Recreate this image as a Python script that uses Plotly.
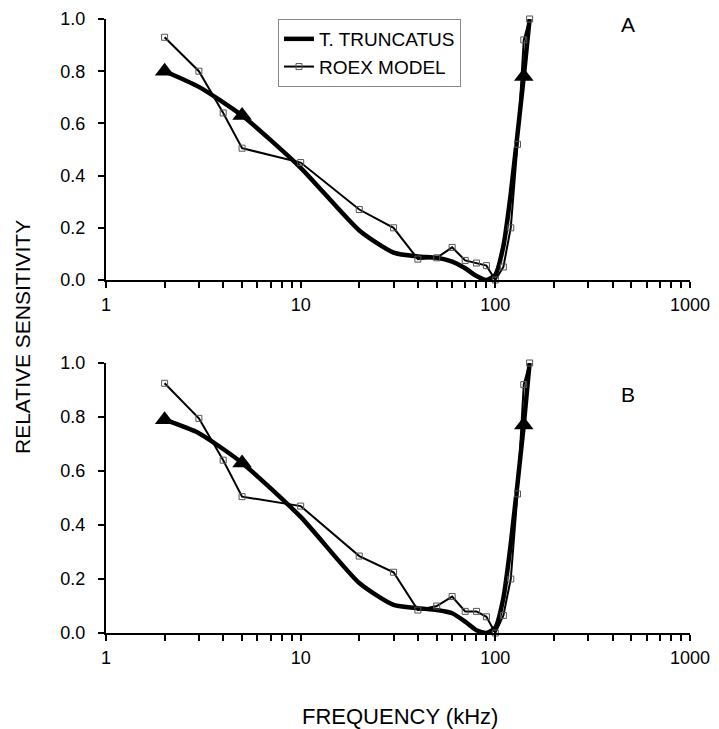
import plotly.graph_objects as go

# page offset: the figure div sits 8px in from the page corner
OFF = 8
W, H = 719 - OFF, 729 - OFF

# ---------------- data ----------------
freq_thick = [2, 3, 5, 10, 20, 30, 40, 50, 60, 70, 80, 90, 100, 110, 120, 140, 150]
thick_A = [0.80, 0.74, 0.63, 0.43, 0.19, 0.105, 0.09, 0.085, 0.07, 0.045, 0.015, 0.0, 0.02, 0.13, 0.33, 0.78, 1.0]
thick_B = [0.79, 0.74, 0.63, 0.43, 0.185, 0.104, 0.092, 0.085, 0.073, 0.042, 0.01, 0.0, 0.02, 0.13, 0.33, 0.77, 1.0]
triangle_idx = [0, 2, 15]  # points of the thick curve drawn with triangles

freq_thin = [2, 3, 4, 5, 10, 20, 30, 40, 50, 60, 70, 80, 90, 100, 110, 120, 130, 140, 150]
thin_A = [0.93, 0.80, 0.64, 0.505, 0.45, 0.27, 0.20, 0.08, 0.085, 0.125, 0.075, 0.065, 0.055, 0.0, 0.05, 0.20, 0.52, 0.92, 1.0]
thin_B = [0.925, 0.795, 0.64, 0.505, 0.47, 0.285, 0.225, 0.085, 0.10, 0.135, 0.08, 0.08, 0.06, 0.0, 0.065, 0.20, 0.515, 0.92, 1.0]

x_tickvals = [1, 2, 3, 4, 5, 6, 7, 8, 9, 10, 20, 30, 40, 50, 60, 70, 80, 90, 100,
              200, 300, 400, 500, 600, 700, 800, 900, 1000]
x_ticktext = ["1" if v == 1 else "10" if v == 10 else "100" if v == 100 else "1000" if v == 1000 else ""
              for v in x_tickvals]
y_tickvals = [0.0, 0.2, 0.4, 0.6, 0.8, 1.0]
y_ticktext = ["0.0", "0.2", "0.4", "0.6", "0.8", "1.0"]

legend_names = ["T. TRUNCATUS", "ROEX MODEL"]
panel_labels = ["A", "B"]
x_title = "FREQUENCY (kHz)"
y_title = "RELATIVE SENSITIVITY"

# ---------------- layout helpers (screen pixels -> paper) ----------------
def px_x(p):
    return (p - OFF) / W

def px_y(p):
    return 1 - (p - OFF) / H

FONT = "Liberation Sans, Arial, Helvetica, sans-serif"

fig = go.Figure()

panels = [("x", "y", thick_A, thin_A, True), ("x2", "y2", thick_B, thin_B, False)]
for xa, ya, thick, thin, show in panels:
    fig.add_trace(go.Scatter(
        x=freq_thick, y=thick, xaxis=xa, yaxis=ya, mode="lines",
        line=dict(color="black", width=4.5, shape="spline", smoothing=0.6),
        name=legend_names[0], showlegend=show, legendrank=1))
    fig.add_trace(go.Scatter(
        x=freq_thin, y=thin, xaxis=xa, yaxis=ya, mode="lines+markers",
        line=dict(color="black", width=2),
        marker=dict(symbol="square-open", size=6, color="#555", line=dict(width=1)),
        name=legend_names[1], showlegend=show, legendrank=2, cliponaxis=False))
    fig.add_trace(go.Scatter(
        x=[freq_thick[i] for i in triangle_idx], y=[thick[i] for i in triangle_idx],
        xaxis=xa, yaxis=ya, mode="markers",
        marker=dict(symbol="triangle-up", size=17, color="black"),
        showlegend=False, cliponaxis=False, hoverinfo="skip"))

xdom = [px_x(106), px_x(690)]
axis_common = dict(showgrid=False, zeroline=False, showline=True, linecolor="black", linewidth=2,
                   ticks="outside", ticklen=6, tickwidth=2, tickcolor="black", automargin=False,
                   tickfont=dict(family=FONT, size=18, color="black"))

xcfg = dict(type="log", range=[0, 3], tickmode="array", tickvals=x_tickvals, ticktext=x_ticktext,
            domain=xdom, ticklabelstandoff=1, **axis_common)
ycfg = dict(range=[0, 1.0], tickmode="array", tickvals=y_tickvals, ticktext=y_ticktext,
            ticklabelstandoff=9, **axis_common)

ann_font = dict(family=FONT, size=21, color="black")

fig.update_layout(
    width=W, height=H,
    margin=dict(l=0, r=0, t=0, b=0, autoexpand=False),
    paper_bgcolor="white", plot_bgcolor="white",
    font=dict(family=FONT, size=18, color="black"),
    xaxis=dict(anchor="y", **xcfg),
    yaxis=dict(anchor="x", domain=[px_y(280), px_y(19)], **ycfg),
    xaxis2=dict(anchor="y2", **xcfg),
    yaxis2=dict(anchor="x2", domain=[px_y(633), px_y(363)], **ycfg),
    legend=dict(x=px_x(278), y=px_y(19), xanchor="left", yanchor="top",
                bgcolor="white", bordercolor="#888", borderwidth=1,
                font=dict(family=FONT, size=19, color="black"),
                tracegroupgap=0, itemwidth=30),
    showlegend=True,
    annotations=[
        dict(text=panel_labels[0], x=px_x(628), y=px_y(25), xref="paper", yref="paper",
             xanchor="center", yanchor="middle", showarrow=False, font=ann_font),
        dict(text=panel_labels[1], x=px_x(628), y=px_y(394), xref="paper", yref="paper",
             xanchor="center", yanchor="middle", showarrow=False, font=ann_font),
        dict(text=x_title, x=px_x(400), y=px_y(716), xref="paper", yref="paper",
             xanchor="center", yanchor="middle", showarrow=False,
             font=dict(family=FONT, size=22, color="black")),
        dict(text=y_title, x=px_x(22), y=px_y(337), xref="paper", yref="paper", textangle=-90,
             xanchor="center", yanchor="middle", showarrow=False,
             font=dict(family=FONT, size=21, color="black")),
    ],
)

fig.write_html("out.html")
